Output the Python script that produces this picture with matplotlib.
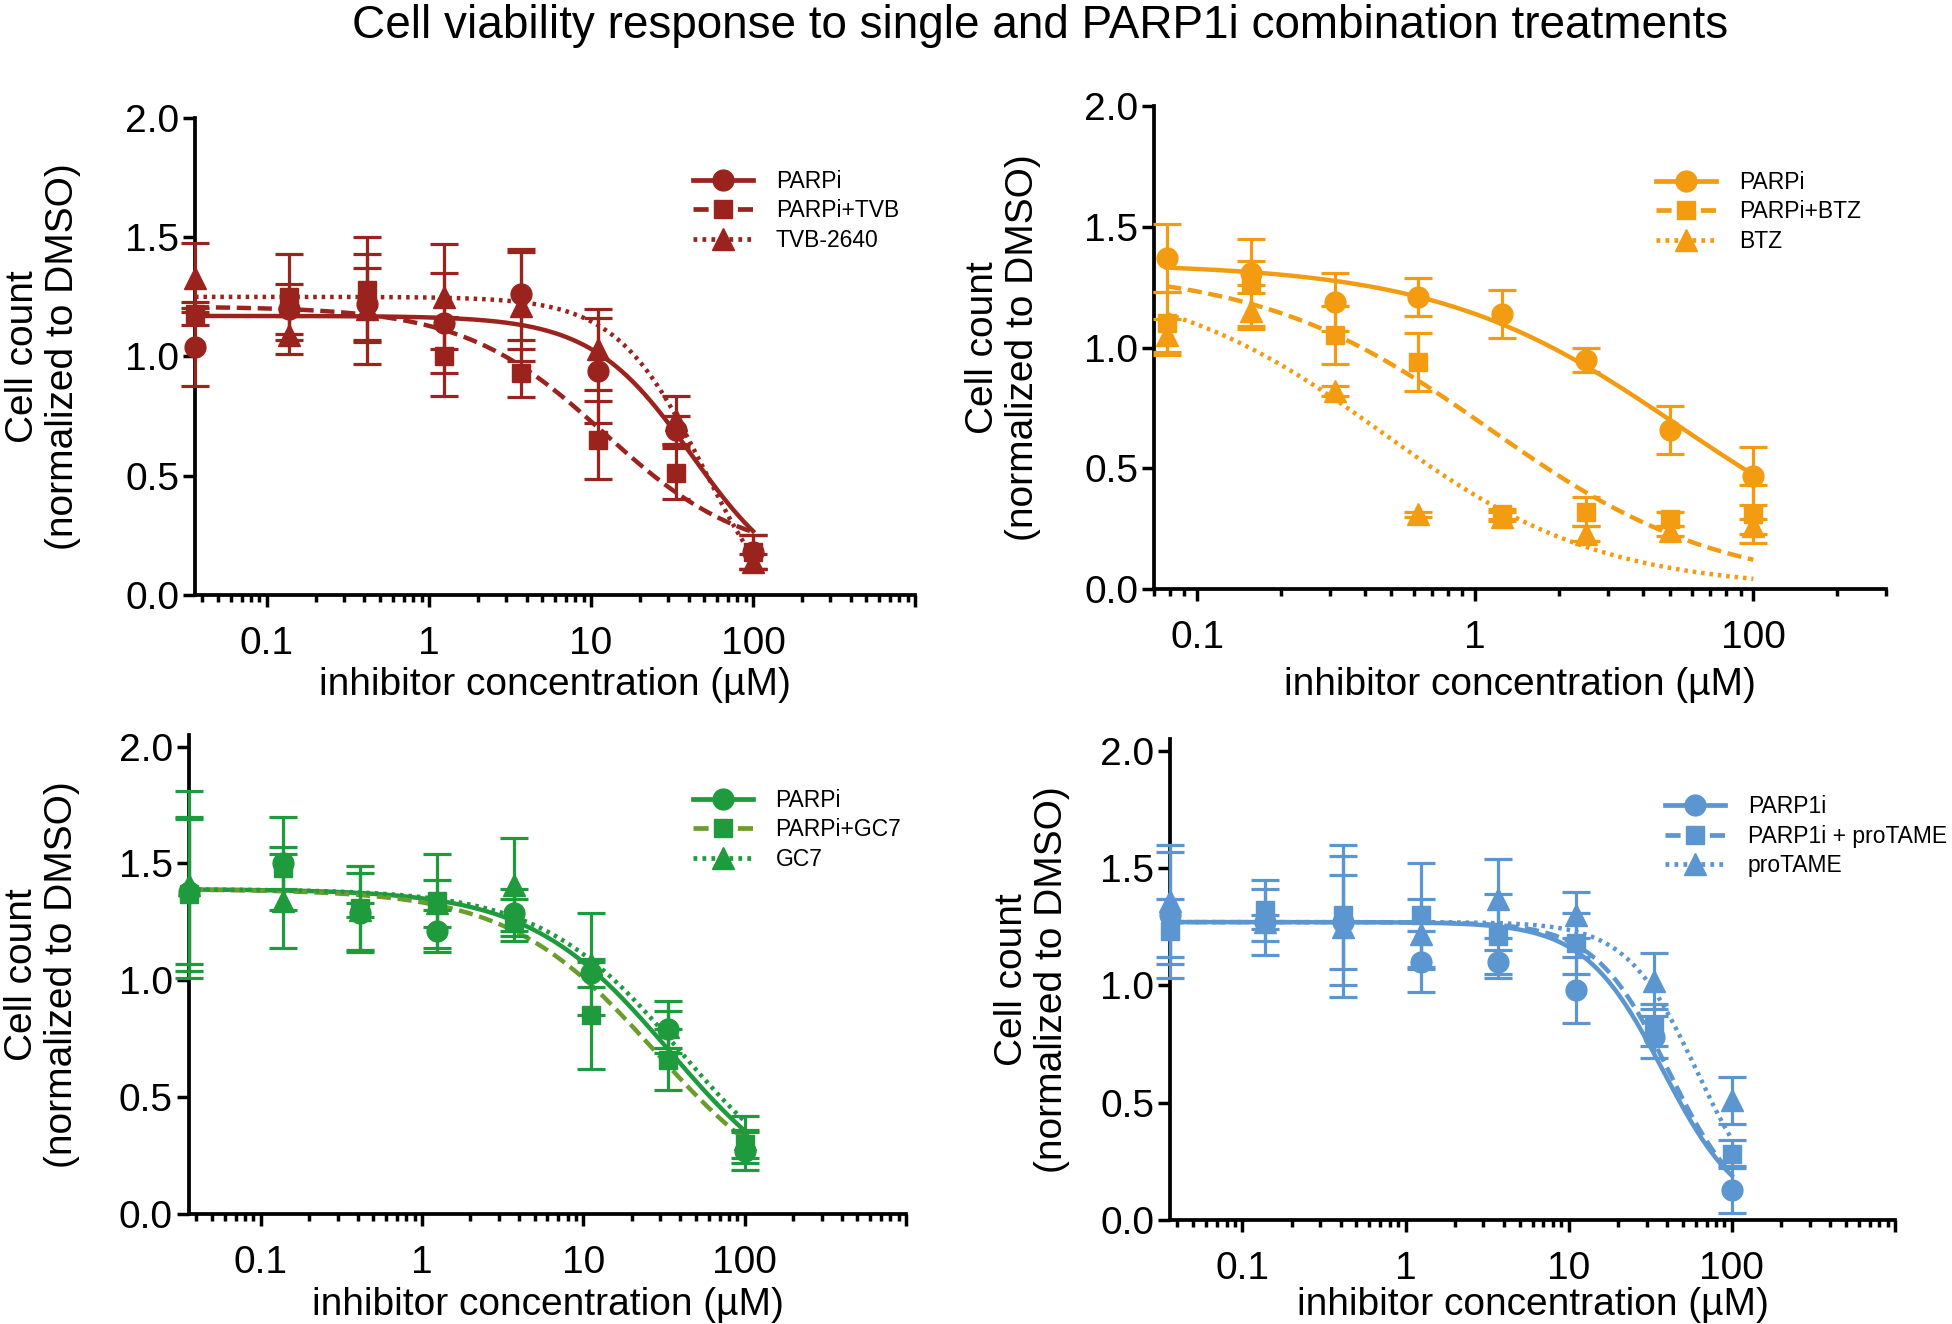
import numpy as np
import matplotlib
matplotlib.use("Agg")
import matplotlib.pyplot as plt
from matplotlib.lines import Line2D
from matplotlib.ticker import FixedLocator, FixedFormatter, LogLocator, NullFormatter

plt.rcParams['font.family'] = ['Liberation Sans', 'DejaVu Sans']

# concentrations (uM)
conc_3fold = [0.036, 0.137, 0.412, 1.235, 3.70, 11.1, 33.3, 100]
conc_2fold = [0.078, 0.156, 0.3125, 0.625, 1.25, 2.5, 5, 10]

# --- TVB-2640 panel ---
tvb_parpi = [1.04, 1.20, 1.22, 1.14, 1.26, 0.94, 0.69, 0.18]
tvb_parpi_err = [0.165, 0.105, 0.15, 0.21, 0.19, 0.22, 0.06, 0.07]
tvb_combo = [1.18, 1.25, 1.28, 1.00, 0.93, 0.65, 0.51, 0.18]
tvb_combo_err = [0.05, 0.18, 0.22, 0.165, 0.10, 0.165, 0.107, 0.07]
tvb_single = [1.33, 1.09, 1.20, 1.25, 1.21, 1.03, 0.735, 0.14]
tvb_single_err = [0.145, 0.08, 0.23, 0.22, 0.23, 0.17, 0.10, 0.03]
# fitted curve params: top, bottom, IC50, hill
tvb_fits = [(1.17, 0.0, 42, 1.4), (1.21, 0.15, 12, 1.0), (1.25, -0.2, 50, 1.6)]

# --- BTZ panel ---
btz_parpi = [1.37, 1.31, 1.19, 1.21, 1.14, 0.95, 0.66, 0.47]
btz_parpi_err = [0.14, 0.05, 0.12, 0.08, 0.10, 0.05, 0.10, 0.12]
btz_combo = [1.10, 1.27, 1.05, 0.94, 0.31, 0.32, 0.29, 0.31]
btz_combo_err = [0.13, 0.18, 0.12, 0.12, 0.02, 0.06, 0.03, 0.12]
btz_single = [1.05, 1.15, 0.82, 0.31, 0.30, 0.23, 0.24, 0.26]
btz_single_err = [0.07, 0.075, 0.02, 0.01, 0.02, 0.03, 0.02, 0.03]
btz_fits = [(1.35, 0.0, 5.4, 1.0), (1.33, 0.0, 1.12, 1.05), (1.30, 0.0, 0.46, 1.1)]

# --- GC7 panel ---
gc7_parpi = [1.38, 1.50, 1.29, 1.21, 1.29, 1.03, 0.79, 0.27]
gc7_parpi_err = [0.31, 0.20, 0.17, 0.09, 0.10, 0.06, 0.08, 0.08]
gc7_combo = [1.37, 1.48, 1.31, 1.34, 1.26, 0.85, 0.66, 0.30]
gc7_combo_err = [0.33, 0.09, 0.18, 0.20, 0.09, 0.23, 0.13, 0.06]
gc7_single = [1.41, 1.34, 1.30, 1.33, 1.41, 1.07, 0.80, 0.32]
gc7_single_err = [0.40, 0.20, 0.03, 0.10, 0.20, 0.22, 0.11, 0.10]
gc7_fits = [(1.39, 0.0, 34.5, 1.0), (1.39, 0.0, 28, 0.95), (1.39, 0.0, 40, 1.0)]

# --- proTAME panel ---
pt_parpi = [1.30, 1.27, 1.27, 1.10, 1.10, 0.98, 0.78, 0.13]
pt_parpi_err = [0.27, 0.14, 0.20, 0.13, 0.05, 0.14, 0.09, 0.10]
pt_combo = [1.23, 1.32, 1.30, 1.30, 1.21, 1.18, 0.83, 0.28]
pt_combo_err = [0.14, 0.13, 0.30, 0.22, 0.18, 0.13, 0.09, 0.06]
pt_single = [1.36, 1.27, 1.25, 1.22, 1.37, 1.30, 1.02, 0.51]
pt_single_err = [0.24, 0.03, 0.30, 0.15, 0.17, 0.10, 0.12, 0.10]
pt_fits = [(1.27, 0.0, 38, 1.8), (1.27, 0.0, 41, 1.9), (1.27, 0.0, 61, 2.0)]

tick_vals_3fold = [0.1, 1, 10, 100, 1000]
tick_labels_3fold = ["0.1", "1", "10", "100", ""]
tick_vals_2fold = [0.1, 1, 10]
tick_labels_2fold = ["0.1", "1", "100"]

DARKRED = "#9b231e"
ORANGE = "#f39c12"
GREEN = "#1f9a3c"
OLIVE = "#6b9c2e"
BLUE = "#5b96d0"

DASHED = (0, (3.2, 1.5))
DOTTED = (0, (0.8, 1.1))


def hill(x, top, bottom, ic50, h):
    return bottom + (top - bottom) / (1 + (x / ic50) ** h)


panels = [
    dict(rect=[0.0999, 0.5506, 0.3689, 0.3603], conc=conc_3fold, xlim=(0.036, 1000), ylim=(0, 2.0),
         ticks=tick_vals_3fold, labels=tick_labels_3fold,
         series=[("PARPi", tvb_parpi, tvb_parpi_err), ("PARPi+TVB", tvb_combo, tvb_combo_err),
                 ("TVB-2640", tvb_single, tvb_single_err)],
         fits=tvb_fits, colors=[DARKRED] * 3, line_colors=[DARKRED] * 3,
         ylab_x=-0.211, xlab_y=-0.188, leg=(0.692, 0.891)),
    dict(rect=[0.5912, 0.5551, 0.375, 0.3648], conc=conc_2fold, xlim=(0.07, 30), ylim=(0, 2.0),
         ticks=tick_vals_2fold, labels=tick_labels_2fold,
         series=[("PARPi", btz_parpi, btz_parpi_err), ("PARPi+BTZ", btz_combo, btz_combo_err),
                 ("BTZ", btz_single, btz_single_err)],
         fits=btz_fits, colors=[ORANGE] * 3, line_colors=[ORANGE] * 3,
         ylab_x=-0.206, xlab_y=-0.198, leg=(0.686, 0.866)),
    dict(rect=[0.0968, 0.0831, 0.3673, 0.3618], conc=conc_3fold, xlim=(0.036, 1000), ylim=(0, 2.05),
         ticks=tick_vals_3fold, labels=tick_labels_3fold,
         series=[("PARPi", gc7_parpi, gc7_parpi_err), ("PARPi+GC7", gc7_combo, gc7_combo_err),
                 ("GC7", gc7_single, gc7_single_err)],
         fits=gc7_fits, colors=[GREEN] * 3, line_colors=[GREEN, OLIVE, GREEN],
         ylab_x=-0.205, xlab_y=-0.19, leg=(0.703, 0.887)),
    dict(rect=[0.5994, 0.0785, 0.3714, 0.3633], conc=conc_3fold, xlim=(0.036, 1000), ylim=(0, 2.05),
         ticks=tick_vals_3fold, labels=tick_labels_3fold,
         series=[("PARP1i", pt_parpi, pt_parpi_err), ("PARP1i + proTAME", pt_combo, pt_combo_err),
                 ("proTAME", pt_single, pt_single_err)],
         fits=pt_fits, colors=[BLUE] * 3, line_colors=[BLUE] * 3,
         ylab_x=-0.19, xlab_y=-0.177, leg=(0.683, 0.883)),
]

markers = ["o", "s", "^"]
msizes = [15, 13.5, 15.5]
styles = ["-", DASHED, DOTTED]

fig = plt.figure(figsize=(19.52, 13.24), dpi=100)
fig.text(0.533, 0.98, "Cell viability response to single and PARP1i combination treatments",
         ha="center", va="center", fontsize=33)

for p in panels:
    ax = fig.add_axes(p["rect"])
    ax.set_xscale("log")
    conc = np.array(p["conc"])
    xs = np.logspace(np.log10(conc[0]), np.log10(conc[-1]), 300)
    handles = []
    for i, (name, mean, err) in enumerate(p["series"]):
        c = p["colors"][i]
        lc = p["line_colors"][i]
        eb = ax.errorbar(conc, mean, yerr=err, fmt=markers[i], ms=msizes[i], color=c,
                         ecolor=c, elinewidth=2.3, capsize=10, capthick=2.3, zorder=3)
        for art in eb.get_children():
            art.set_clip_on(False)
        ax.plot(xs, hill(xs, *p["fits"][i]), color=lc, ls=styles[i], lw=3.2, zorder=2)
        handles.append(Line2D([], [], color=lc, ls=styles[i], lw=3.4, marker=markers[i],
                              ms=msizes[i], markerfacecolor=c, markeredgecolor=c, label=name))

    ax.set_xlim(*p["xlim"])
    ax.set_ylim(*p["ylim"])
    ax.xaxis.set_major_locator(FixedLocator(p["ticks"]))
    ax.xaxis.set_major_formatter(FixedFormatter(p["labels"]))
    ax.xaxis.set_minor_locator(LogLocator(base=10, subs=np.arange(2, 10), numticks=30))
    ax.xaxis.set_minor_formatter(NullFormatter())
    ax.set_yticks([0, 0.5, 1.0, 1.5, 2.0])
    ax.set_yticklabels(["0.0", "0.5", "1.0", "1.5", "2.0"])

    for side in ["top", "right"]:
        ax.spines[side].set_visible(False)
    for side in ["left", "bottom"]:
        ax.spines[side].set_linewidth(2.7)
    ax.tick_params(axis="both", which="major", direction="out", length=8.5, width=2.5,
                   labelsize=28)
    ax.tick_params(axis="x", which="major", pad=14)
    ax.tick_params(axis="y", which="major", pad=3)
    ax.tick_params(axis="x", which="minor", direction="out", length=5, width=2.5)

    ax.set_ylabel("Cell count\n(normalized to DMSO)", fontsize=28, va="center", linespacing=1.15)
    ax.yaxis.set_label_coords(p["ylab_x"], 0.5)
    ax.set_xlabel("inhibitor concentration (\u00b5M)", fontsize=28, va="center")
    ax.xaxis.set_label_coords(0.5, p["xlab_y"])

    ax.legend(handles=handles, loc="upper left", bbox_to_anchor=p["leg"], frameon=False,
              fontsize=16.5, borderpad=0, borderaxespad=0, handlelength=2.6,
              handletextpad=1.0, labelspacing=0.28)

fig.savefig("out.png", dpi=100)
